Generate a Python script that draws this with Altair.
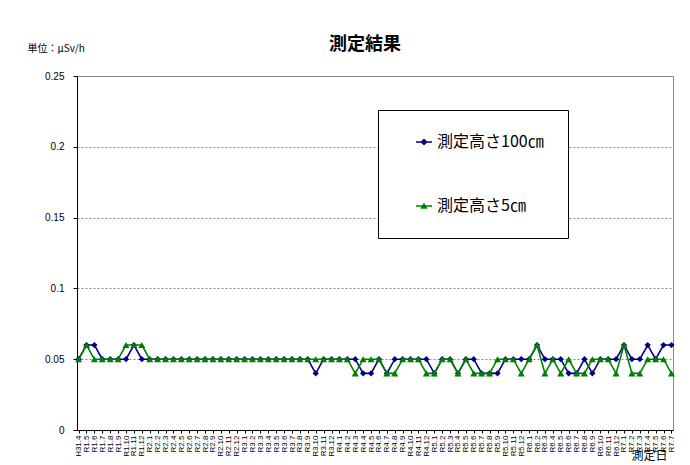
import altair as alt
import pandas as pd

dates = ["H31.4", "R1.5", "R1.6", "R1.7", "R1.8", "R1.9", "R1.10", "R1.11", "R1.12"]
for yr in range(2, 7):
    dates += [f"R{yr}.{m}" for m in range(1, 13)]
dates += [f"R7.{m}" for m in range(1, 8)]

h100 = [0.05, 0.06, 0.06, 0.05, 0.05, 0.05, 0.05, 0.06, 0.05,
        0.05, 0.05, 0.05, 0.05, 0.05, 0.05, 0.05, 0.05, 0.05, 0.05, 0.05, 0.05,
        0.05, 0.05, 0.05, 0.05, 0.05, 0.05, 0.05, 0.05, 0.05, 0.04, 0.05, 0.05,
        0.05, 0.05, 0.05, 0.04, 0.04, 0.05, 0.04, 0.05, 0.05, 0.05, 0.05, 0.05,
        0.04, 0.05, 0.05, 0.04, 0.05, 0.05, 0.04, 0.04, 0.04, 0.05, 0.05, 0.05,
        0.05, 0.06, 0.05, 0.05, 0.05, 0.04, 0.04, 0.05, 0.04, 0.05, 0.05, 0.05,
        0.06, 0.05, 0.05, 0.06, 0.05, 0.06, 0.06]
h5 = [0.05, 0.06, 0.05, 0.05, 0.05, 0.05, 0.06, 0.06, 0.06,
      0.05, 0.05, 0.05, 0.05, 0.05, 0.05, 0.05, 0.05, 0.05, 0.05, 0.05, 0.05,
      0.05, 0.05, 0.05, 0.05, 0.05, 0.05, 0.05, 0.05, 0.05, 0.05, 0.05, 0.05,
      0.05, 0.05, 0.04, 0.05, 0.05, 0.05, 0.04, 0.04, 0.05, 0.05, 0.05, 0.04,
      0.04, 0.05, 0.05, 0.04, 0.05, 0.04, 0.04, 0.04, 0.05, 0.05, 0.05, 0.04,
      0.05, 0.06, 0.04, 0.05, 0.04, 0.05, 0.04, 0.04, 0.05, 0.05, 0.05, 0.04,
      0.06, 0.04, 0.04, 0.05, 0.05, 0.05, 0.04]

series_names = ["測定高さ100㎝", "測定高さ5㎝"]
series_colors = ["#000080", "#008000"]
y_ticks = [0, 0.05, 0.1, 0.15, 0.2, 0.25]

rows = []
for i, d in enumerate(dates):
    rows.append({"date": d, "series": series_names[0], "value": h100[i]})
    rows.append({"date": d, "series": series_names[1], "value": h5[i]})
df = pd.DataFrame(rows)

JP = "Noto Sans CJK JP"
LAT = "Liberation Sans"

base = alt.Chart(df).encode(
    x=alt.X("date:N", sort=dates,
            scale=alt.Scale(type="point", padding=0.2),
            axis=alt.Axis(labelAngle=270, labelFont=LAT, labelFontSize=8, labelColor="black",
                          labelOverlap=False, labelPadding=2, tickSize=3, tickColor="black",
                          domainColor="black", grid=False,
                          title="測定日", titleFont=JP, titleFontSize=12, titleFontWeight="normal",
                          titleColor="black", titleAngle=0, titleAlign="right",
                          titleBaseline="middle", titleX=590, titleY=25)),
    y=alt.Y("value:Q", scale=alt.Scale(domain=[0, 0.25], nice=False, zero=True),
            axis=alt.Axis(values=y_ticks, format="~g", labelFont=LAT, labelFontSize=10,
                          labelColor="black", labelPadding=9, tickSize=4, tickColor="black",
                          domainColor="black", grid=True, gridDash=[2, 2], gridColor="#888",
                          title="単位：μSv/h", titleFont=JP, titleFontSize=10,
                          titleFontWeight="normal", titleColor="black", titleAngle=0,
                          titleAlign="left", titleBaseline="middle", titleX=-50, titleY=-28)),
)

f100 = alt.datum.series == series_names[0]
f5 = alt.datum.series == series_names[1]

line100 = base.transform_filter(f100).mark_line(strokeWidth=1.6, color=series_colors[0])
pts100 = base.transform_filter(f100).mark_point(shape="diamond", filled=True, size=40,
                                                opacity=1, color=series_colors[0])
line5 = base.transform_filter(f5).mark_line(strokeWidth=1.6, color=series_colors[1])
pts5 = base.transform_filter(f5).mark_point(shape="triangle-up", filled=True, size=50,
                                            opacity=1, color=series_colors[1])

legend_paths = [
    "M-1,-0.09H1V0.09H-1Z M0,-0.45L0.45,0L0,0.45L-0.45,0Z",
    "M-1,-0.09H1V0.09H-1Z M0,-0.45L0.45,0.35L-0.45,0.35Z",
]
leg = alt.Legend(title=None, orient="none", legendX=301, legendY=34, padding=24,
                 strokeColor="black", fillColor="white", symbolOffset=14, symbolSize=256,
                 labelFont=JP, labelFontSize=16, labelColor="black", labelOffset=5,
                 rowPadding=48, symbolStrokeWidth=0, symbolOpacity=1)

legend_layer = base.transform_filter("false").mark_point(filled=True, opacity=1).encode(
    color=alt.Color("series:N", scale=alt.Scale(domain=series_names, range=series_colors),
                    legend=leg),
    shape=alt.Shape("series:N", scale=alt.Scale(domain=series_names, range=legend_paths),
                    legend=leg),
)

chart = alt.layer(line100, pts100, line5, pts5, legend_layer).properties(
    width=596, height=354,
    title=alt.TitleParams("測定結果", font=JP, fontSize=18, fontWeight="bold",
                          color="black", anchor="middle", offset=-11, dx=-10),
    padding={"left": 69, "top": 68, "right": 5, "bottom": 34},
    autosize=alt.AutoSizeParams(type="none"),
    background="white",
).configure_view(stroke="#888", strokeWidth=1)

chart.save("out.html", embed_options={"renderer": "svg", "actions": False})
